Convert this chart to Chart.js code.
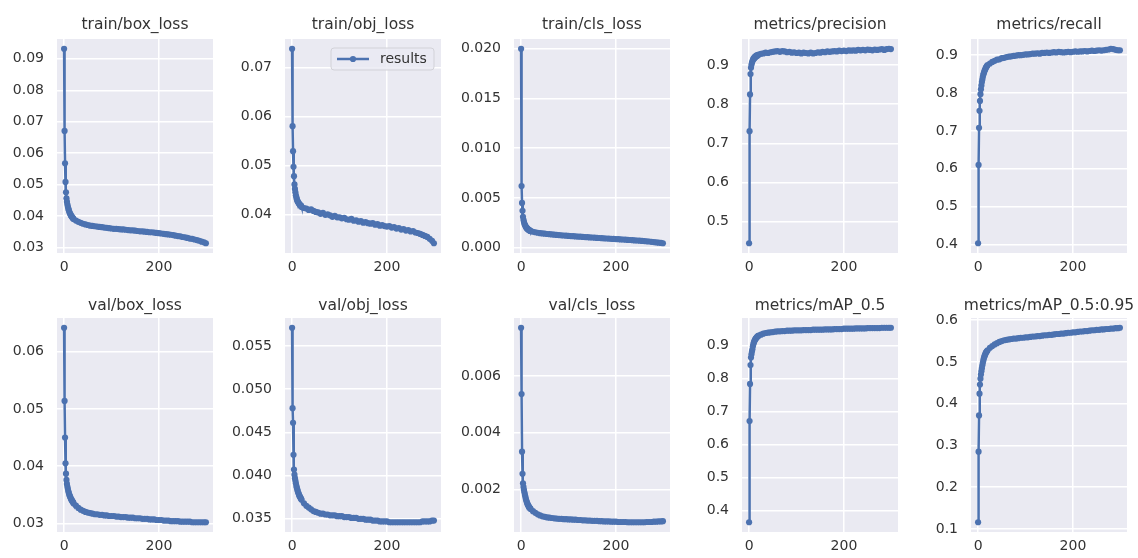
<!DOCTYPE html>
<html>
<head>
<meta charset="utf-8">
<script src="https://cdn.jsdelivr.net/npm/chart.js@4.4.1/dist/chart.umd.min.js"></script>
<style>
  html, body { margin: 0; padding: 0; background: #ffffff; }
  body { width: 1138px; height: 558px; position: relative; overflow: hidden; font-family: 'DejaVu Sans', sans-serif; }
  .cell { position: absolute; }
  .ttl { position: absolute; color: #333333; font-size: 15.5px; white-space: nowrap; transform: translate(-50%, -50%); }
</style>
</head>
<body>
<script>
// ---------- data ----------
const epochs = [0,1,2,3,4,5,6,7,8,9,10,11,12,13,14,15,16,17,18,19,
  20,25,30,35,40,45,50,55,60,65,
  70,75,80,85,90,95,100,105,110,115,
  120,125,130,135,140,145,150,155,160,165,
  170,175,180,185,190,195,200,205,210,215,
  220,225,230,235,240,245,250,255,260,265,
  270,275,280,285,290,295,299];

const trainBoxLoss = [0.0932,0.0671,0.0568,0.0509,0.0476,0.0457,0.0446,0.0437,0.0430,0.0424,0.0419,0.0414,0.0410,0.0407,0.0404,0.0401,0.0399,0.0397,0.0395,0.0393,
  0.0391,0.0386,0.0382,0.0379,0.0376,0.0374,0.0372,0.0370,0.0369,0.0368,
  0.0367,0.0366,0.0365,0.0364,0.0363,0.0362,0.0361,0.0360,0.0360,0.0359,
  0.0358,0.0358,0.0357,0.0356,0.0355,0.0355,0.0354,0.0353,0.0352,0.0352,
  0.0351,0.0350,0.0349,0.0349,0.0348,0.0347,0.0346,0.0345,0.0344,0.0343,
  0.0342,0.0341,0.0340,0.0338,0.0337,0.0336,0.0334,0.0333,0.0331,0.0329,
  0.0328,0.0326,0.0324,0.0322,0.0319,0.0317,0.0314];

const trainObjLoss = [0.0739,0.0581,0.0530,0.0498,0.0479,0.0462,0.0453,0.0446,0.0440,0.0436,0.0432,0.0429,0.0427,0.0425,0.0424,0.0422,0.0421,0.0420,0.0418,0.0419,
  0.0416,0.0414,0.0413,0.0410,0.0411,0.0408,0.0406,0.0405,0.0402,0.0404,
  0.0400,0.0401,0.0399,0.0396,0.0398,0.0395,0.0395,0.0393,0.0394,0.0391,
  0.0390,0.0392,0.0388,0.0389,0.0386,0.0387,0.0384,0.0385,0.0383,0.0382,
  0.0383,0.0380,0.0381,0.0378,0.0379,0.0377,0.0376,0.0377,0.0374,0.0375,
  0.0372,0.0373,0.0370,0.0371,0.0368,0.0369,0.0366,0.0367,0.0364,0.0363,
  0.0361,0.0359,0.0357,0.0355,0.0351,0.0347,0.0342];

const trainClsLoss = [0.0200,0.0062,0.0045,0.0037,0.0031,0.0028,0.0026,0.0024,0.0023,0.0022,0.0021,0.0020,0.0020,0.0019,0.0019,0.0018,0.0018,0.0018,0.0017,0.0017,
  0.00168,0.00160,0.00155,0.00150,0.00146,0.00143,0.00140,0.00137,0.00135,0.00133,
  0.00130,0.00128,0.00126,0.00124,0.00122,0.00120,0.00118,0.00116,0.00115,0.00113,
  0.00111,0.00110,0.00108,0.00106,0.00105,0.00103,0.00102,0.00100,0.00098,0.00097,
  0.00095,0.00094,0.00092,0.00091,0.00089,0.00088,0.00086,0.00085,0.00083,0.00082,
  0.00080,0.00078,0.00077,0.00075,0.00073,0.00072,0.00070,0.00068,0.00066,0.00064,
  0.00062,0.00059,0.00056,0.00053,0.00050,0.00047,0.00044];

const precision = [0.444,0.731,0.825,0.877,0.893,0.901,0.906,0.910,0.913,0.916,0.918,0.917,0.921,0.920,0.923,0.922,0.925,0.924,0.926,0.925,
  0.927,0.929,0.930,0.932,0.931,0.933,0.934,0.935,0.936,0.934,
  0.936,0.935,0.933,0.934,0.932,0.933,0.931,0.932,0.930,0.932,
  0.931,0.930,0.932,0.930,0.931,0.933,0.932,0.934,0.933,0.935,
  0.934,0.935,0.936,0.935,0.937,0.936,0.937,0.936,0.938,0.937,
  0.938,0.937,0.939,0.938,0.939,0.938,0.940,0.939,0.938,0.940,
  0.939,0.940,0.941,0.939,0.941,0.942,0.941];

const recall = [0.403,0.610,0.708,0.753,0.779,0.797,0.810,0.820,0.829,0.836,0.843,0.848,0.852,0.856,0.860,0.862,0.866,0.868,0.870,0.872,
  0.874,0.878,0.882,0.885,0.888,0.889,0.892,0.893,0.895,0.896,
  0.897,0.898,0.899,0.900,0.900,0.901,0.902,0.902,0.903,0.904,
  0.904,0.905,0.904,0.906,0.906,0.907,0.906,0.907,0.908,0.907,
  0.909,0.908,0.907,0.908,0.909,0.908,0.909,0.910,0.909,0.910,
  0.910,0.911,0.910,0.911,0.912,0.911,0.912,0.913,0.912,0.913,
  0.914,0.915,0.917,0.916,0.914,0.913,0.913];

const valBoxLoss = [0.0642,0.0514,0.0450,0.0405,0.0387,0.0376,0.0369,0.0364,0.0360,0.0356,0.0353,0.0350,0.0348,0.0346,0.0344,0.0342,0.0341,0.0339,0.0338,0.0337,
  0.0335,0.0331,0.0327,0.0324,0.0322,0.0320,0.0319,0.0318,0.0317,0.0316,
  0.0316,0.0315,0.0315,0.0314,0.0314,0.0313,0.0313,0.0313,0.0312,0.0312,
  0.0311,0.0311,0.0311,0.0310,0.0310,0.0310,0.0309,0.0309,0.0309,0.0308,
  0.0308,0.0308,0.0307,0.0307,0.0307,0.0306,0.0306,0.0306,0.0305,0.0305,
  0.0305,0.0304,0.0304,0.0304,0.0304,0.0303,0.0303,0.0303,0.0303,0.0303,
  0.0302,0.0302,0.0302,0.0302,0.0302,0.0302,0.0302];

const valObjLoss = [0.0571,0.0478,0.0461,0.0424,0.0407,0.0401,0.0397,0.0394,0.0391,0.0388,0.0386,0.0384,0.0382,0.0380,0.0379,0.0377,0.0376,0.0375,0.0374,0.0373,
  0.0372,0.0368,0.0365,0.0363,0.0361,0.0359,0.0358,0.0357,0.0356,0.0356,
  0.0355,0.0355,0.0354,0.0354,0.0354,0.0353,0.0353,0.0353,0.0352,0.0352,
  0.0352,0.0351,0.0351,0.0351,0.0350,0.0350,0.0350,0.0349,0.0349,0.0349,
  0.0348,0.0348,0.0348,0.0347,0.0347,0.0347,0.0347,0.0346,0.0346,0.0346,
  0.0346,0.0346,0.0346,0.0346,0.0346,0.0346,0.0346,0.0346,0.0346,0.0346,
  0.0346,0.0347,0.0347,0.0347,0.0347,0.0348,0.0348];

const valClsLoss = [0.00769,0.00536,0.00334,0.00256,0.00223,0.00210,0.00200,0.00191,0.00183,0.00176,0.00168,0.00162,0.00157,0.00152,0.00148,0.00145,0.00142,0.00139,0.00137,0.00135,
  0.00133,0.00125,0.00119,0.00114,0.00110,0.00107,0.00105,0.00103,0.00102,0.00101,
  0.00100,0.00099,0.00098,0.00098,0.00097,0.00097,0.00096,0.00096,0.00095,0.00095,
  0.00094,0.00094,0.00093,0.00093,0.00092,0.00092,0.00091,0.00091,0.00091,0.00090,
  0.00090,0.00089,0.00089,0.00089,0.00088,0.00088,0.00088,0.00087,0.00087,0.00087,
  0.00087,0.00086,0.00086,0.00086,0.00086,0.00086,0.00086,0.00086,0.00086,0.00087,
  0.00087,0.00087,0.00088,0.00088,0.00089,0.00089,0.00090];

const mAP50 = [0.365,0.671,0.783,0.840,0.863,0.873,0.881,0.888,0.897,0.903,0.908,0.912,0.915,0.918,0.920,0.922,0.924,0.925,0.927,0.928,
  0.929,0.932,0.935,0.937,0.938,0.939,0.940,0.941,0.942,0.942,
  0.943,0.943,0.944,0.944,0.944,0.945,0.945,0.945,0.945,0.946,
  0.946,0.946,0.946,0.947,0.947,0.947,0.947,0.947,0.948,0.948,
  0.948,0.948,0.949,0.949,0.949,0.949,0.950,0.950,0.950,0.950,
  0.950,0.951,0.951,0.951,0.951,0.951,0.952,0.952,0.952,0.952,
  0.952,0.952,0.953,0.953,0.953,0.953,0.953];

const mAP5095 = [0.116,0.285,0.372,0.424,0.446,0.460,0.470,0.478,0.485,0.492,0.498,0.503,0.508,0.512,0.515,0.518,0.521,0.523,0.525,0.526,
  0.528,0.534,0.538,0.542,0.545,0.548,0.550,0.552,0.553,0.554,
  0.555,0.556,0.556,0.557,0.558,0.558,0.559,0.559,0.560,0.561,
  0.561,0.562,0.562,0.563,0.564,0.564,0.565,0.565,0.566,0.567,
  0.567,0.568,0.568,0.569,0.570,0.570,0.571,0.571,0.572,0.573,
  0.573,0.574,0.574,0.575,0.576,0.576,0.577,0.577,0.578,0.578,
  0.579,0.579,0.580,0.580,0.581,0.581,0.582];

const titles = ['train/box_loss','train/obj_loss','train/cls_loss','metrics/precision','metrics/recall',
                'val/box_loss','val/obj_loss','val/cls_loss','metrics/mAP_0.5','metrics/mAP_0.5:0.95'];

const xTickLabels = ['0','200'];
const yTicksTrainBox = ['0.03','0.04','0.05','0.06','0.07','0.08','0.09'];
const yTicksTrainObj = ['0.04','0.05','0.06','0.07'];
const yTicksTrainCls = ['0.000','0.005','0.010','0.015','0.020'];
const yTicksPrecision = ['0.5','0.6','0.7','0.8','0.9'];
const yTicksRecall = ['0.4','0.5','0.6','0.7','0.8','0.9'];
const yTicksValBox = ['0.03','0.04','0.05','0.06'];
const yTicksValObj = ['0.035','0.040','0.045','0.050','0.055'];
const yTicksValCls = ['0.002','0.004','0.006'];
const yTicksMap50 = ['0.4','0.5','0.6','0.7','0.8','0.9'];
const yTicksMap5095 = ['0.1','0.2','0.3','0.4','0.5','0.6'];

const seriesLabel = 'results';

// ---------- layout / style ----------
const COLOR = '#4C72B0';
const BG = '#EAEAF2';
const TEXT = '#333333';
const FONT = "'DejaVu Sans', sans-serif";
const plotLefts = [57, 285, 514, 742, 971];
const rowTops = [39, 318];
const PW = 156, PH = 214;
const YAXW = 57, PADT = 10, PADR = 4, XAXH = 28;

const panels = [
  [trainBoxLoss, yTicksTrainBox], [trainObjLoss, yTicksTrainObj], [trainClsLoss, yTicksTrainCls],
  [precision, yTicksPrecision], [recall, yTicksRecall],
  [valBoxLoss, yTicksValBox], [valObjLoss, yTicksValObj], [valClsLoss, yTicksValCls],
  [mAP50, yTicksMap50], [mAP5095, yTicksMap5095]
];

const bgPlugin = {
  id: 'axesBg',
  beforeDraw(chart) {
    const {ctx, chartArea: a} = chart;
    ctx.save();
    ctx.fillStyle = BG;
    ctx.fillRect(a.left, a.top, a.right - a.left, a.bottom - a.top);
    ctx.restore();
  }
};

const legendPlugin = {
  id: 'boxLegend',
  afterDraw(chart, args, opts) {
    if (!opts || !opts.show) return;
    const {ctx, chartArea: a} = chart;
    const w = 103, h = 22;
    const x = a.right - 7 - w, y = a.top + 9;
    ctx.save();
    ctx.beginPath();
    ctx.roundRect(x, y, w, h, 3);
    ctx.fillStyle = 'rgba(234,234,242,0.8)';
    ctx.fill();
    ctx.strokeStyle = '#d2d2d8';
    ctx.lineWidth = 1;
    ctx.stroke();
    const cy = y + h / 2;
    ctx.strokeStyle = COLOR;
    ctx.lineWidth = 2.5;
    ctx.beginPath();
    ctx.moveTo(x + 6, cy);
    ctx.lineTo(x + 38, cy);
    ctx.stroke();
    ctx.fillStyle = COLOR;
    ctx.beginPath();
    ctx.arc(x + 22, cy, 3.1, 0, Math.PI * 2);
    ctx.fill();
    ctx.fillStyle = TEXT;
    ctx.font = '14px ' + FONT;
    ctx.textBaseline = 'middle';
    ctx.textAlign = 'left';
    ctx.fillText(chart.data.datasets[0].label, x + 49, cy + 0.5);
    ctx.restore();
  }
};

panels.forEach(([vals, yLabels], i) => {
  const col = i % 5, row = Math.floor(i / 5);
  const pl = plotLefts[col], pt = rowTops[row];

  const cell = document.createElement('div');
  cell.className = 'cell';
  cell.style.left = (pl - YAXW) + 'px';
  cell.style.top = (pt - PADT) + 'px';
  cell.style.width = (YAXW + PW + PADR) + 'px';
  cell.style.height = (PADT + PH + XAXH) + 'px';
  const cv = document.createElement('canvas');
  cell.appendChild(cv);
  document.body.appendChild(cell);

  const t = document.createElement('div');
  t.className = 'ttl';
  t.textContent = titles[i];
  t.style.left = (pl + PW / 2) + 'px';
  t.style.top = (row === 0 ? 24 : 305) + 'px';
  document.body.appendChild(t);

  const xmin = Math.min(...epochs), xmax = Math.max(...epochs);
  const ymin = Math.min(...vals), ymax = Math.max(...vals);
  const xm = (xmax - xmin) * 0.05, ym = (ymax - ymin) * 0.05;
  const yVals = yLabels.map(parseFloat);
  const xVals = xTickLabels.map(parseFloat);

  new Chart(cv, {
    type: 'line',
    data: {
      datasets: [{
        label: seriesLabel,
        data: epochs.map((e, k) => ({x: e, y: vals[k]})),
        borderColor: COLOR,
        backgroundColor: COLOR,
        borderWidth: 2.5,
        pointRadius: 3.1,
        pointBorderWidth: 0,
        pointBackgroundColor: COLOR,
        tension: 0,
        fill: false,
        clip: false
      }]
    },
    options: {
      responsive: true,
      maintainAspectRatio: false,
      animation: false,
      events: [],
      layout: {padding: {top: PADT, right: PADR, left: 0, bottom: 0}},
      plugins: {
        legend: {display: false},
        tooltip: {enabled: false},
        title: {display: false},
        boxLegend: {show: i === 1}
      },
      scales: {
        x: {
          type: 'linear',
          min: xmin - xm,
          max: xmax + xm,
          afterBuildTicks: s => { s.ticks = xVals.map(v => ({value: v})); },
          afterFit: s => { s.height = XAXH; s.paddingLeft = 0; s.paddingRight = 0; },
          ticks: {
            autoSkip: false, maxRotation: 0, padding: 6,
            color: TEXT, font: {family: FONT, size: 14},
            callback: (v, idx) => xTickLabels[idx]
          },
          grid: {color: '#ffffff', lineWidth: 1.5, drawTicks: false},
          border: {display: false}
        },
        y: {
          type: 'linear',
          min: ymin - ym,
          max: ymax + ym,
          afterBuildTicks: s => { s.ticks = yVals.map(v => ({value: v})); },
          afterFit: s => { s.width = YAXW; s.paddingTop = 0; s.paddingBottom = 0; },
          ticks: {
            autoSkip: false, padding: 13,
            color: TEXT, font: {family: FONT, size: 14},
            callback: (v, idx) => yLabels[idx]
          },
          grid: {color: '#ffffff', lineWidth: 1.5, drawTicks: false},
          border: {display: false}
        }
      }
    },
    plugins: [bgPlugin, legendPlugin]
  });
});
</script>
</body>
</html>
